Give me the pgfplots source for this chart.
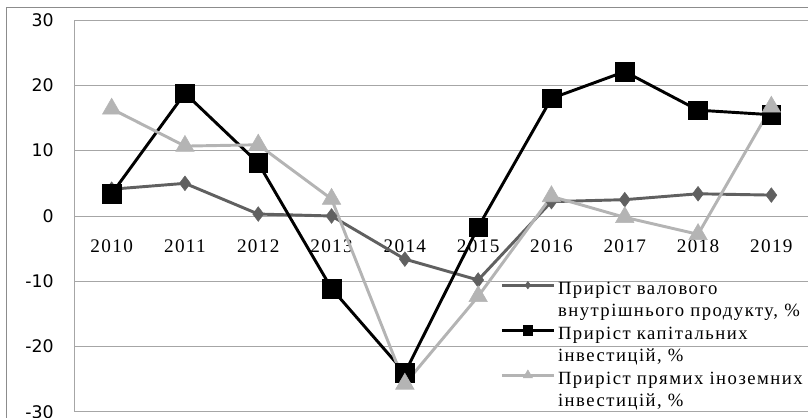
\documentclass[border=0pt]{standalone}
\usepackage{fontspec}
\setmainfont{Liberation Serif}
\newfontfamily\ytfont{DejaVu Sans}
\usepackage{pgfplots}
\pgfplotsset{compat=1.18}
\definecolor{gdp}{HTML}{606060}
\definecolor{fdi}{HTML}{B4B4B4}
\definecolor{gridc}{HTML}{A6A6A6}
\definecolor{framec}{HTML}{8C8C8C}
\begin{document}
\begin{tikzpicture}
\begin{axis}[
  scale only axis, width=549.75pt, height=294pt,
  xmin=2009.5, xmax=2019.5, ymin=-30, ymax=30,
  axis x line=middle, axis y line=left,
  axis line style={-, draw=gridc, line width=0.75pt},
  hide obscured x ticks=false, hide obscured y ticks=false,
  xtick={2010,2011,2012,2013,2014,2015,2016,2017,2018,2019},
  xticklabels={2010,2011,2012,2013,2014,2015,2016,2017,2018,2019},
  ytick={-30,-20,-10,0,10,20,30},
  major tick length=0pt,
  ymajorgrids, grid style={gridc, line width=0.75pt},
  /pgf/number format/assume math mode=true,
  yticklabel style={font=\ytfont\fontsize{13}{15}\selectfont, xshift=-12.5pt},
  xticklabel style={font=\fontsize{14.4}{17}\selectfont\addfontfeature{LetterSpace=7}, yshift=-14pt},
  clip=false,
  legend image code/.code={\draw[mark repeat=2,mark phase=2,every mark/.append style={scale=0.5}] plot coordinates {(0pt,11pt) (19.5pt,11pt) (39pt,11pt)};},
  legend style={at={(axis description cs:0.58,0.34)}, anchor=north west, draw=none, fill=none,
    font=\fontsize{14}{16.5}\selectfont\addfontfeature{LetterSpace=8}, inner sep=0pt, row sep=2.5pt,
    cells={anchor=base west, align=left}},
  legend cell align=left,
]
\addplot[color=gdp, line width=2.2pt, mark=diamond*, mark size=5.5pt, mark options={solid, line width=0.4pt, fill=gdp, draw=gdp}]
  coordinates {(2010,4.1) (2011,5.0) (2012,0.3) (2013,0.0) (2014,-6.6) (2015,-9.8) (2016,2.2) (2017,2.5) (2018,3.4) (2019,3.2)};
\addlegendentry{Приріст валового\\внутрішнього продукту, \%}
\addplot[color=black, line width=2.2pt, mark=square*, mark size=7pt, mark options={solid, line width=0.4pt, fill=black}]
  coordinates {(2010,3.4) (2011,18.8) (2012,8.1) (2013,-11.1) (2014,-24.0) (2015,-1.7) (2016,18.0) (2017,22.1) (2018,16.2) (2019,15.5)};
\addlegendentry{Приріст капітальних\\інвестицій, \%}
\addplot[color=fdi, line width=2.2pt, mark=triangle*, mark size=8pt, mark options={solid, line width=0.4pt, fill=fdi, draw=fdi}]
  coordinates {(2010,16.4) (2011,10.7) (2012,10.9) (2013,2.6) (2014,-25.7) (2015,-12.3) (2016,3.0) (2017,-0.2) (2018,-2.8) (2019,16.7)};
\addlegendentry{Приріст прямих іноземних\\інвестицій, \%}
\end{axis}
\draw[framec, line width=0.75pt] (-51pt,-10pt) -- (-51pt,303pt) -- (560pt,303pt);
\pgfresetboundingbox
\useasboundingbox (-56.25pt,-4.5pt) rectangle (549.75pt,309pt);
\end{tikzpicture}
\end{document}
